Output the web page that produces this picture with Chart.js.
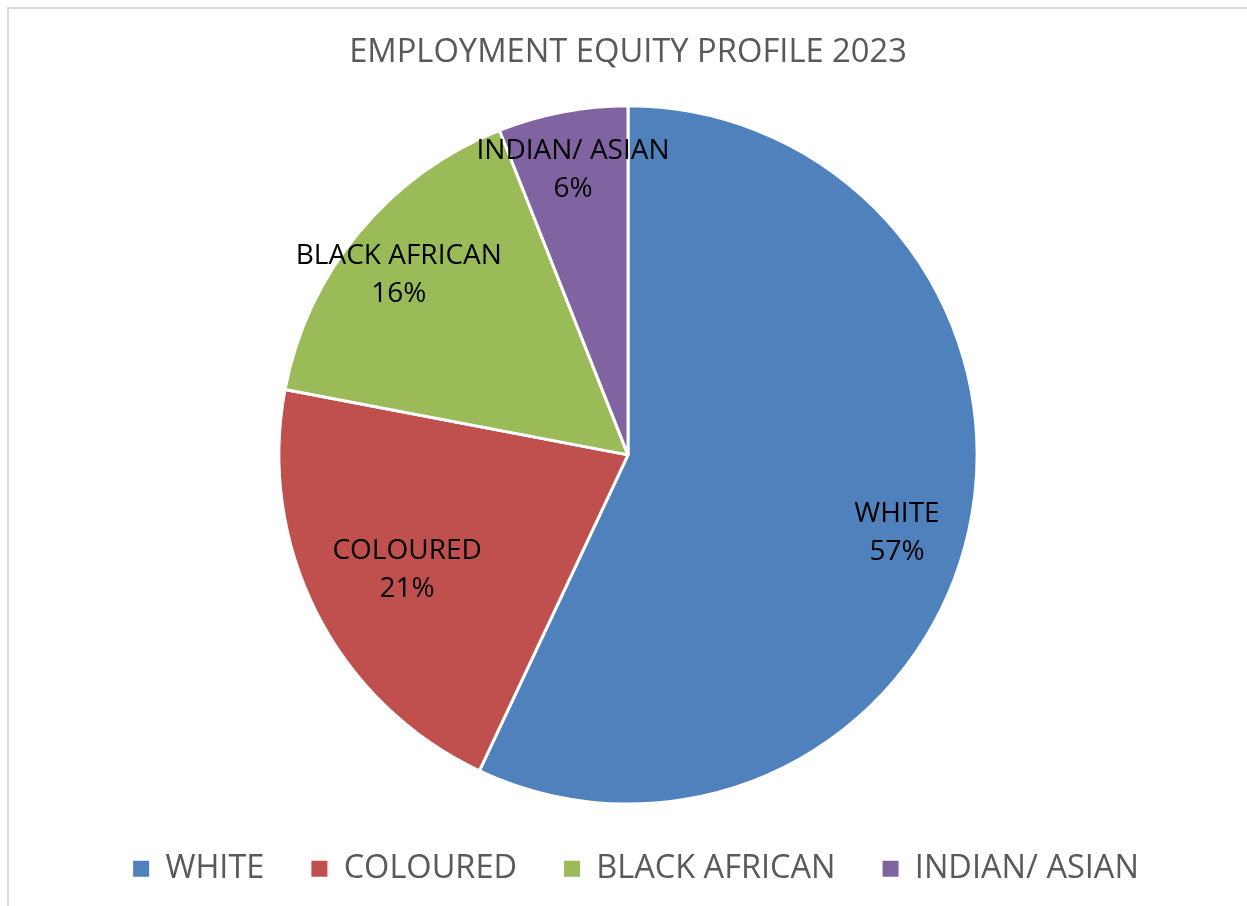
<!DOCTYPE html>
<html>
<head>
<meta charset="utf-8">
<title>Employment Equity Profile 2023</title>
<script src="https://cdn.jsdelivr.net/npm/chart.js@4.4.0/dist/chart.umd.min.js"></script>
<style>
  html, body { margin: 0; padding: 0; background: #fff; }
  #wrap { position: relative; width: 1247px; height: 906px; }
  #frame {
    position: absolute; left: 7px; top: 7px; right: -2px; bottom: -2px;
    border-left: 2px solid #d9d9d9; border-top: 2px solid #d9d9d9;
  }
  canvas { position: absolute; left: 0; top: 0; }
</style>
</head>
<body>
<div id="wrap">
  <div id="frame"></div>
  <canvas id="eeChart" width="1247" height="906"></canvas>
</div>
<script>
const groups = ["WHITE", "COLOURED", "BLACK AFRICAN", "INDIAN/ ASIAN"];
const shares = [57, 21, 16, 6];
const sliceColours = ["#4f81bd", "#c0504d", "#9bbb59", "#8064a2"];

// where each data label sits: fraction of the radius, extra turn in degrees
const labelPlace = [[0.80, 3], [0.71, 0], [0.84, -1], [0.84, 0]];

const FONT = "'Open Sans', 'Liberation Sans', sans-serif";

const sliceLabels = {
  id: "sliceLabels",
  afterDatasetsDraw(chart) {
    const ctx = chart.ctx;
    const meta = chart.getDatasetMeta(0);
    ctx.save();
    ctx.font = "28px " + FONT;
    ctx.fillStyle = "#000";
    ctx.textAlign = "center";
    ctx.textBaseline = "middle";
    meta.data.forEach((arc, i) => {
      const p = arc.getProps(["x", "y", "startAngle", "endAngle", "outerRadius"], true);
      const mid = (p.startAngle + p.endAngle) / 2 + labelPlace[i][1] * Math.PI / 180;
      const r = p.outerRadius * labelPlace[i][0];
      const x = p.x + Math.cos(mid) * r;
      const y = p.y + Math.sin(mid) * r + 3;
      ctx.fillText(groups[i], x, y - 19);
      ctx.fillText(shares[i] + "%", x, y + 19);
    });
    ctx.restore();
  }
};

// the legend row counts its trailing padding when centring; push it back
const legendShift = {
  id: "legendShift",
  afterLayout(chart) {
    chart.legend.left += 8;
    chart.legend.right += 8;
  }
};

const pieLegendLabels = Chart.overrides.pie.plugins.legend.labels.generateLabels;

new Chart(document.getElementById("eeChart"), {
  type: "pie",
  data: {
    labels: groups,
    datasets: [{
      data: shares,
      backgroundColor: sliceColours,
      borderColor: "#ffffff",
      borderWidth: 3
    }]
  },
  options: {
    responsive: false,
    animation: false,
    layout: { padding: { left: 9, right: 0, top: 0, bottom: 11 } },
    plugins: {
      title: {
        display: true,
        text: "EMPLOYMENT EQUITY PROFILE 2023",
        color: "#595959",
        font: { family: FONT, size: 32.7, weight: "normal" },
        padding: { top: 33, bottom: 32 }
      },
      legend: {
        position: "bottom",
        labels: {
          color: "#595959",
          font: { family: FONT, size: 32.5 },
          boxWidth: 16,
          boxHeight: 16,
          padding: 47,
          // plain filled squares, without the white slice outline
          generateLabels(chart) {
            return pieLegendLabels(chart).map(item => {
              item.strokeStyle = item.fillStyle;
              item.lineWidth = 0;
              return item;
            });
          }
        }
      },
      tooltip: { enabled: false }
    }
  },
  plugins: [sliceLabels, legendShift]
});
</script>
</body>
</html>
